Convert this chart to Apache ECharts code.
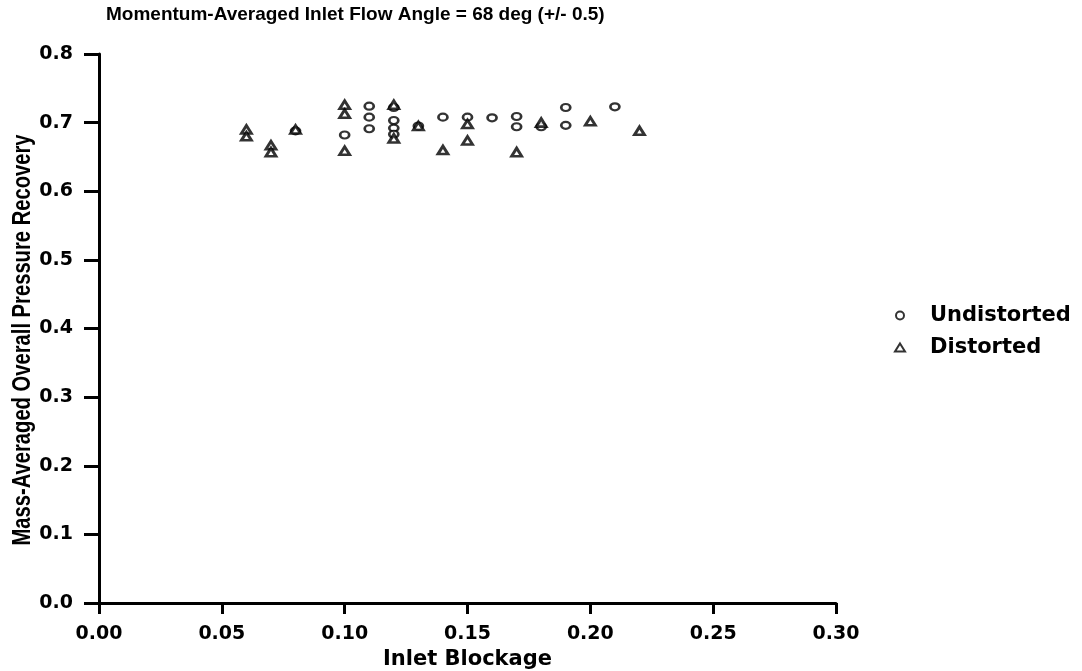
<!DOCTYPE html>
<html>
<head>
<meta charset="utf-8">
<script src="https://cdn.jsdelivr.net/npm/echarts@6/dist/echarts.min.js"></script>
<style>
  html, body { margin: 0; padding: 0; background: #fff; }
  #chart { width: 1082px; height: 671px; }
</style>
</head>
<body>
<div id="chart"></div>
<script>
// inlet blockage vs pressure recovery
const undistortedX = [0.08, 0.10, 0.11, 0.11, 0.11, 0.12, 0.12, 0.12, 0.12, 0.13, 0.14, 0.15, 0.16, 0.17, 0.17, 0.18, 0.19, 0.19, 0.21]
const undistortedY = [0.688, 0.682, 0.724, 0.708, 0.691, 0.722, 0.703, 0.692, 0.683, 0.695, 0.708, 0.708, 0.707, 0.709, 0.694, 0.694, 0.722, 0.696, 0.723]
const distortedX = [0.06, 0.06, 0.07, 0.07, 0.08, 0.10, 0.10, 0.10, 0.12, 0.12, 0.13, 0.14, 0.15, 0.15, 0.17, 0.18, 0.20, 0.22]
const distortedY = [0.690, 0.680, 0.667, 0.657, 0.690, 0.726, 0.713, 0.659, 0.726, 0.677, 0.695, 0.660, 0.698, 0.674, 0.657, 0.700, 0.702, 0.688]

const yName = 'Mass-Averaged Overall Pressure Recovery'

const sans = 'Liberation Sans, Arial, sans-serif'
const wide = 'DejaVu Sans, sans-serif'

function pairs(xs, ys) {
  return xs.map((x, i) => [x, ys[i]])
}

const chart = echarts.init(document.getElementById('chart'))

chart.setOption({
  animation: false,
  title: {
    text: 'Momentum-Averaged Inlet Flow Angle = 68 deg (+/- 0.5)',
    left: 101,
    top: 0,
    textStyle: { fontFamily: sans, fontSize: 19, fontWeight: 'bold', color: '#000' }
  },
  legend: {
    orient: 'vertical',
    left: 889,
    top: 300,
    itemGap: 11,
    itemWidth: 10,
    itemHeight: 8,
    textStyle: { fontFamily: wide, fontSize: 21, fontWeight: 'bold', color: '#000', padding: [0, 0, 0, 20] },
    data: [
      { name: 'Undistorted', icon: 'circle' },
      { name: 'Distorted', icon: 'triangle' }
    ]
  },
  // y axis title is tall and condensed in the original, so stretch it
  graphic: [{
    type: 'text',
    x: 23,
    y: 340,
    rotation: Math.PI / 2,
    scaleY: 1.25,
    style: {
      text: yName,
      font: 'bold 20.2px ' + sans,
      fill: '#000',
      align: 'center',
      verticalAlign: 'middle'
    }
  }],
  grid: {
    left: 99,
    right: 246,
    top: 54,
    bottom: 68,
    outerBoundsMode: 'none'
  },
  xAxis: {
    type: 'value',
    min: 0,
    max: 0.3,
    interval: 0.05,
    name: 'Inlet Blockage',
    nameLocation: 'middle',
    nameGap: 42,
    nameTextStyle: { fontFamily: wide, fontSize: 21, fontWeight: 'bold', color: '#000' },
    axisLine: { show: true, lineStyle: { color: '#000', width: 3 } },
    axisTick: { show: true, length: 11, lineStyle: { color: '#000', width: 3 } },
    axisLabel: {
      fontFamily: wide, fontSize: 19, fontWeight: 'bold', color: '#000', margin: 22,
      formatter: v => v.toFixed(2)
    },
    splitLine: { show: false }
  },
  yAxis: {
    type: 'value',
    min: 0,
    max: 0.8,
    interval: 0.1,
    axisLine: { show: true, lineStyle: { color: '#000', width: 3 } },
    axisTick: { show: true, length: 15, lineStyle: { color: '#000', width: 3 } },
    axisLabel: {
      fontFamily: wide, fontSize: 19, fontWeight: 'bold', color: '#000', margin: 26,
      formatter: v => v.toFixed(1)
    },
    splitLine: { show: false }
  },
  series: [
    {
      name: 'Undistorted',
      type: 'scatter',
      symbol: 'circle',
      symbolSize: [9, 7],
      itemStyle: { color: '#fff', borderColor: '#000', borderWidth: 2.4 },
      data: pairs(undistortedX, undistortedY)
    },
    {
      name: 'Distorted',
      type: 'scatter',
      symbol: 'triangle',
      symbolSize: [10, 8],
      itemStyle: { color: '#fff', borderColor: '#000', borderWidth: 2.8 },
      data: pairs(distortedX, distortedY)
    }
  ]
})
</script>
</body>
</html>
